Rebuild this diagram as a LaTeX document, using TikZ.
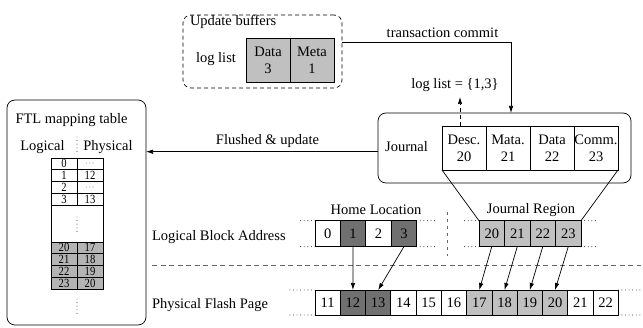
\documentclass[tikz,border=0pt]{standalone}
\usepackage{fontspec}
\setmainfont{Liberation Serif}
\usetikzlibrary{arrows.meta,calc}
\definecolor{dgray}{HTML}{707070}
\definecolor{lgray}{HTML}{C0C0C0}
\definecolor{tgray}{HTML}{B4B4B4}
\definecolor{lngray}{HTML}{666666}
\newcommand\tdots{\raisebox{2pt}{\fontsize{8}{8}\selectfont$\cdots$}}
\begin{document}
\begin{tikzpicture}[x=1pt,y=-1pt,
  every node/.style={inner sep=0pt, outer sep=0pt},
  txt/.style={font=\fontsize{14.5}{17}\selectfont},
  small/.style={font=\fontsize{12.5}{12.5}\selectfont},
  lw/.style={line width=0.7pt},
  cellbox/.style={draw, lw, txt, align=center},
  tcell/.style={draw, lw, small, minimum width=26pt, minimum height=11.75pt, text height=8pt, text depth=0pt},
  arr/.style={line width=0.7pt, -{Latex[length=7pt,width=4.5pt]}},
  dotline/.style={line width=0.9pt, dash pattern=on 0pt off 3.6pt, line cap=round},
  sepline/.style={line width=0.9pt, lngray, dash pattern=on 5pt off 3.5pt}]
\useasboundingbox (0,0) rectangle (643,328);

% FTL mapping table
\node[draw, lw, rounded corners=8pt, minimum width=139pt, minimum height=225pt] (ftl) at (76.5,212.5) {};
\node[txt] (ftlt) at (71.5,120) {FTL mapping table};
\node[txt] (lg) at (42.5,147) {Logical};
\node[txt] (ph) at (108,147) {Physical};
\draw[dotline] (77,137) -- (77,155);
\foreach \l/\p [count=\i from 0] in {0/{\tdots},1/12,2/{\tdots},3/13} {
  \node[tcell] (tl\i) at (64,{158+11.75*(\i+0.5)}) {\scalebox{0.85}[1]{\l}};
  \node[tcell] (tp\i) at (90,{158+11.75*(\i+0.5)}) {\scalebox{0.85}[1]{\p}};
}
\node[draw, lw, minimum width=52pt, minimum height=37pt] (tb) at (77,223.5) {};
\draw[dotline] (77,217) -- (77,232);
\foreach \l/\p [count=\i from 0] in {20/17,21/18,22/19,23/20} {
  \node[tcell, fill=tgray] (gl\i) at (64,{242+11.75*(\i+0.5)}) {\scalebox{0.85}[1]{\l}};
  \node[tcell, fill=tgray] (gp\i) at (90,{242+11.75*(\i+0.5)}) {\scalebox{0.85}[1]{\p}};
}
\draw[dotline] (77,299) -- (77,316);

% Update buffers
\node[draw, lw, dashed, dash pattern=on 4pt off 3pt, rounded corners=8pt, minimum width=159pt, minimum height=73pt] (upd) at (262.5,51.5) {};
\node[txt, anchor=west] (updt) at (190,22) {Update buffers};
\node[txt] (ll) at (216,59) {log list};
\node[cellbox, fill=lgray, minimum width=44pt, minimum height=44pt] (ub1) at (268,60) {Data\\3};
\node[cellbox, fill=lgray, minimum width=44pt, minimum height=44pt] (ub2) at (312,60) {Meta\\1};

% Journal
\node[draw, lw, rounded corners=8pt, minimum width=253pt, minimum height=70pt, fill=white] (journal) at (504.5,148) {};
\node[txt] (jt) at (406.5,147) {Journal};
\node[cellbox, minimum width=44pt, minimum height=44pt] (j1) at (464,148) {Desc.\\20};
\node[cellbox, minimum width=44pt, minimum height=44pt] (j2) at (508,148) {Mata.\\21};
\node[cellbox, minimum width=44pt, minimum height=44pt] (j3) at (552,148) {Data\\22};
\node[cellbox, minimum width=44pt, minimum height=44pt] (j4) at (596,148) {Comm.\\23};

% transaction commit
\coordinate (y42) at (0,42);
\coordinate (tc) at (upd.east |- y42);
\draw[arr] (tc) -| ([xshift=6.5pt]journal.north);
\node[txt] (tct) at (442.5,33) {transaction commit};

% log list
\draw[arr, dashed, dash pattern=on 4pt off 3pt] ([xshift=-4pt]j1.north) -- ++(0,-29);
\node[txt] (llt) at (455,85) {log list = \{1,3\}};

% Flushed & update
\coordinate (fl) at ([yshift=-3.7pt]journal.west);
\draw[arr] (fl) -- (fl -| ftl.east);
\node[txt] (flt) at (267.5,140.7) {Flushed \& update};

% Logical Block Address row
\node[txt, anchor=west] (lba) at (152,237) {Logical Block Address};
\foreach \n/\x/\f in {0/327.7/white,1/353.1/dgray,2/378.5/white,3/403.9/dgray} {
  \node[cellbox, fill=\f, minimum width=25.4pt, minimum height=26pt] (h\n) at (\x,233.7) {\n};
}
\foreach \n/\x in {20/491.75,21/517.25,22/542.75,23/568.25} {
  \node[cellbox, fill=lgray, minimum width=25.5pt, minimum height=26pt] (r\n) at (\x,233.7) {\n};
}
\node[txt] (hl) at (376,210) {Home Location};
\node[txt] (jr) at (531,210) {Journal Region};
\draw[dotline] (h0.north west) -- ++(-17,0);
\draw[dotline] (h0.south west) -- ++(-17,0);
\draw[dotline] (h3.north east) -- ++(21,0);
\draw[dotline] (h3.south east) -- ++(21,0);
\draw[dotline] (r20.north west) -- ++(-17,0);
\draw[dotline] (r20.south west) -- ++(-17,0);
\draw[dotline] (r23.north east) -- ++(17,0);
\draw[dotline] (r23.south east) -- ++(17,0);

\draw[lw] (j1.south west) -- (r20.north west);
\draw[lw] (j4.south east) -- (r23.north east);

% separators
\draw[sepline, dash pattern=on 3.5pt off 3.5pt] (447,212) -- (447,256);
\draw[sepline] (152,265) -- (641,265);

% Physical Flash Page row
\node[txt, anchor=west] (pfp) at (152,305) {Physical Flash Page};
\foreach \n/\f [count=\i from 0] in {11/white,12/dgray,13/dgray,14/white,15/white,16/white,17/lgray,18/lgray,19/lgray,20/lgray,21/white,22/white} {
  \node[cellbox, fill=\f, minimum width=25.27pt, minimum height=25pt] (p\n) at ({327.64+25.27*\i},302.5) {\n};
}
\draw[dotline] (p11.north west) -- ++(-28,0);
\draw[dotline] (p11.south west) -- ++(-28,0);
\draw[dotline] (p22.north east) -- ++(22,0);
\draw[dotline] (p22.south east) -- ++(22,0);

% mapping arrows
\draw[arr] (h1.south) -- (p12.north);
\draw[arr] (h3.south) -- (p13.north);
\draw[arr] (r20.south) -- (p17.north);
\draw[arr] (r21.south) -- (p18.north);
\draw[arr] (r22.south) -- (p19.north);
\draw[arr] (r23.south) -- (p20.north);
\end{tikzpicture}
\end{document}
